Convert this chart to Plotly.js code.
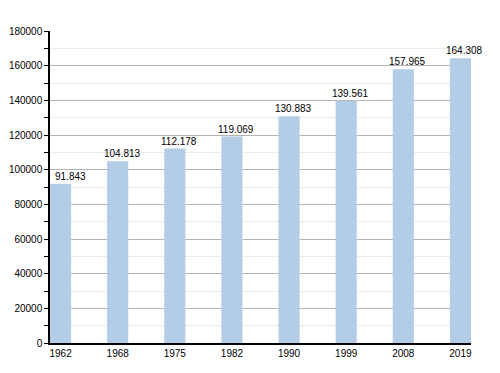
<!DOCTYPE html>
<html><head><meta charset="utf-8">
<script src="https://cdn.plot.ly/plotly-3.0.1.min.js"></script>
<style>html,body{margin:0;padding:0;background:#fff}#c{width:500px;height:373px}</style>
</head><body><div id="c"></div><pre id="e"></pre>
<script>
window.onerror = function(m){ document.getElementById('e').textContent += m + '\n'; };
const years = ['1962','1968','1975','1982','1990','1999','2008','2019'];
const population = [91843, 104813, 112178, 119069, 130883, 139561, 157965, 164308];

function fmt(v){ return String(v).replace(/\B(?=(\d{3})+(?!\d))/g, '.'); }

const trace = {
  type: 'bar',
  x: years,
  y: population,
  marker: {color: '#b3cde6'},
  hoverinfo: 'none'
};

const annotations = years.map((yr, i) => ({
  x: i, y: population[i], xref: 'x', yref: 'y',
  text: fmt(population[i]),
  showarrow: false,
  xanchor: 'center', yanchor: 'bottom',
  xshift: i === 0 ? 9.5 : 4.5,
  font: {size: 10, color: '#000'}
}));

const layout = {
  width: 500, height: 373,
  margin: {l: 50, r: 29, t: 31, b: 30},
  paper_bgcolor: '#fff', plot_bgcolor: '#fff',
  bargap: 0.63,
  showlegend: false,
  annotations: annotations,
  font: {family: 'Liberation Sans, Arial, sans-serif', size: 10, color: '#000'},
  xaxis: {
    type: 'category',
    range: [-0.185, 7.185],
    showline: true, linecolor: '#000', linewidth: 1.5,
    ticks: '', showgrid: false, zeroline: false,
    tickfont: {size: 10}
  },
  yaxis: {
    range: [0, 180000],
    dtick: 20000, tick0: 0,
    tickformat: 'd',
    showline: true, linecolor: '#000', linewidth: 1.5,
    ticks: 'outside', ticklen: 4, tickcolor: '#000',
    gridcolor: '#b4b4b4', gridwidth: 1,
    zeroline: false,
    minor: {dtick: 10000, tick0: 0, showgrid: true, gridcolor: '#ebebeb', ticks: 'outside', ticklen: 4, tickcolor: '#000'},
    tickfont: {size: 10}
  }
};

Plotly.newPlot('c', [trace], layout, {displayModeBar: false}).catch(function(err){ document.getElementById('e').textContent += String(err); });
</script></body></html>
